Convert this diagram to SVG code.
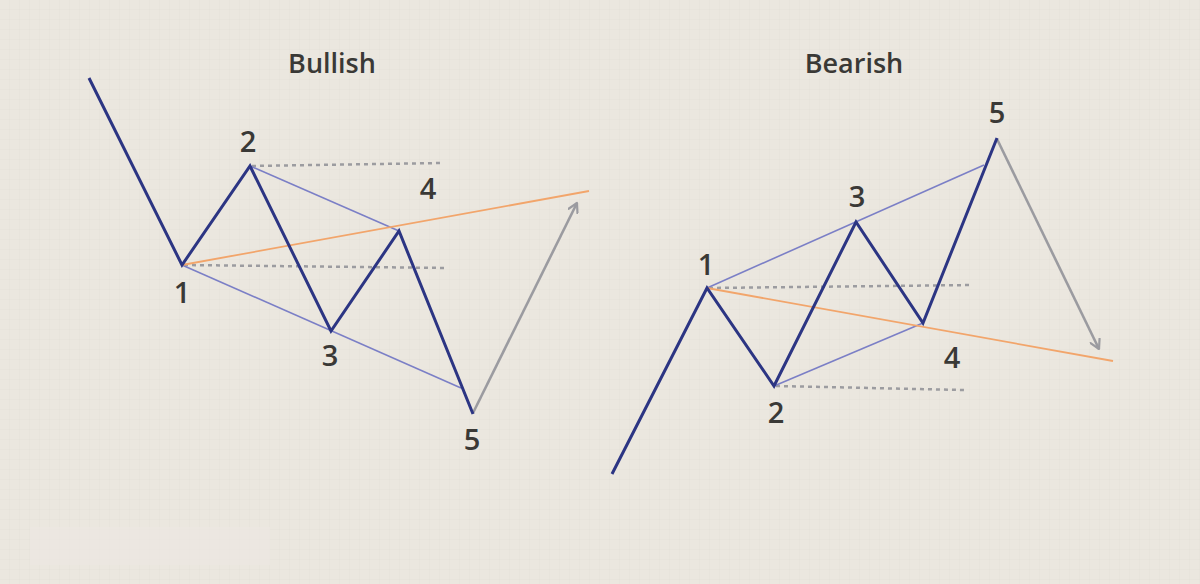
<svg xmlns="http://www.w3.org/2000/svg" width="1200" height="584" viewBox="0 0 1200 584">
  <defs>
    <pattern id="grid" width="10" height="10" patternUnits="userSpaceOnUse">
      <path d="M10 0 V10 M0 10 H10" fill="none" stroke="#ddd8cf" stroke-width="0.6" opacity="0.7"/>
    </pattern>
    <marker id="chev" viewBox="0 0 12 12" refX="10" refY="6" markerWidth="12" markerHeight="12" markerUnits="userSpaceOnUse" orient="auto">
      <path d="M1 1 L10 6 L1 11" fill="none" stroke="#9b9ba0" stroke-width="2.2" stroke-linecap="round" stroke-linejoin="round"/>
    </marker>
    <style>
      .wave { fill: none; stroke: #2c3583; stroke-width: 3; stroke-linejoin: miter; stroke-linecap: butt; }
      .chan { fill: none; stroke: #7b7fc6; stroke-width: 1.6; }
      .trend { fill: none; stroke: #f2a56b; stroke-width: 1.8; }
      .dots { fill: none; stroke: #9c9ca0; stroke-width: 2.5; stroke-dasharray: 4 4; }
      .arrow { fill: none; stroke: #9b9ba0; stroke-width: 2.6; marker-end: url(#chev); }
      .title { font-family: "Open Sans", Lato, "Liberation Sans", sans-serif; font-weight: 600; font-size: 27px; fill: #3a3936; text-anchor: middle; }
      .num { font-family: "Open Sans", Lato, "Liberation Sans", sans-serif; font-weight: 600; font-size: 29px; fill: #3a3936; text-anchor: middle; }
    </style>
  </defs>
  <rect width="1200" height="584" fill="#ebe7df"/>
  <rect width="1200" height="584" fill="url(#grid)"/>
  <rect x="30" y="527" width="240" height="38" fill="#ece8e2" opacity="0.6"/>

  <g id="connectors">
    <!-- Bullish -->
    <line class="dots" x1="252" y1="166" x2="440" y2="163"/>
    <line class="dots" x1="184" y1="265" x2="448" y2="268"/>
    <line class="chan" x1="250" y1="166" x2="399" y2="231"/>
    <line class="chan" x1="182" y1="265" x2="461" y2="388"/>
    <line class="trend" x1="182" y1="265" x2="589" y2="191"/>
    <line class="arrow" x1="473" y1="413" x2="577" y2="203"/>
    <!-- Bearish -->
    <line class="dots" x1="709" y1="288" x2="972" y2="285"/>
    <line class="dots" x1="776" y1="386" x2="964" y2="390"/>
    <line class="chan" x1="707" y1="288" x2="984" y2="165"/>
    <line class="chan" x1="774" y1="386" x2="923" y2="323"/>
    <line class="trend" x1="707" y1="288" x2="1113" y2="361"/>
    <line class="arrow" x1="997" y1="139" x2="1099" y2="349"/>
  </g>

  <g id="bullish-wave">
    <polyline class="wave" points="89,78 182,265 250,166 331,331 399,231 473,414"/>
  </g>
  <g id="bearish-wave">
    <polyline class="wave" points="612,474 707,288 774,386 856,222 923,323 997,138"/>
  </g>

  <g id="bullish-title"><text class="title" x="332" y="73">Bullish</text></g>
  <g id="bearish-title"><text class="title" x="854" y="73">Bearish</text></g>

  <g id="bull-1"><text class="num" x="182" y="303">1</text></g>
  <g id="bull-2"><text class="num" x="248" y="152">2</text></g>
  <g id="bull-3"><text class="num" x="330" y="366">3</text></g>
  <g id="bull-4"><text class="num" x="428" y="199">4</text></g>
  <g id="bull-5"><text class="num" x="472" y="450">5</text></g>

  <g id="bear-1"><text class="num" x="706" y="275">1</text></g>
  <g id="bear-2"><text class="num" x="776" y="423">2</text></g>
  <g id="bear-3"><text class="num" x="857" y="207">3</text></g>
  <g id="bear-4"><text class="num" x="952" y="368">4</text></g>
  <g id="bear-5"><text class="num" x="997" y="123">5</text></g>
</svg>
